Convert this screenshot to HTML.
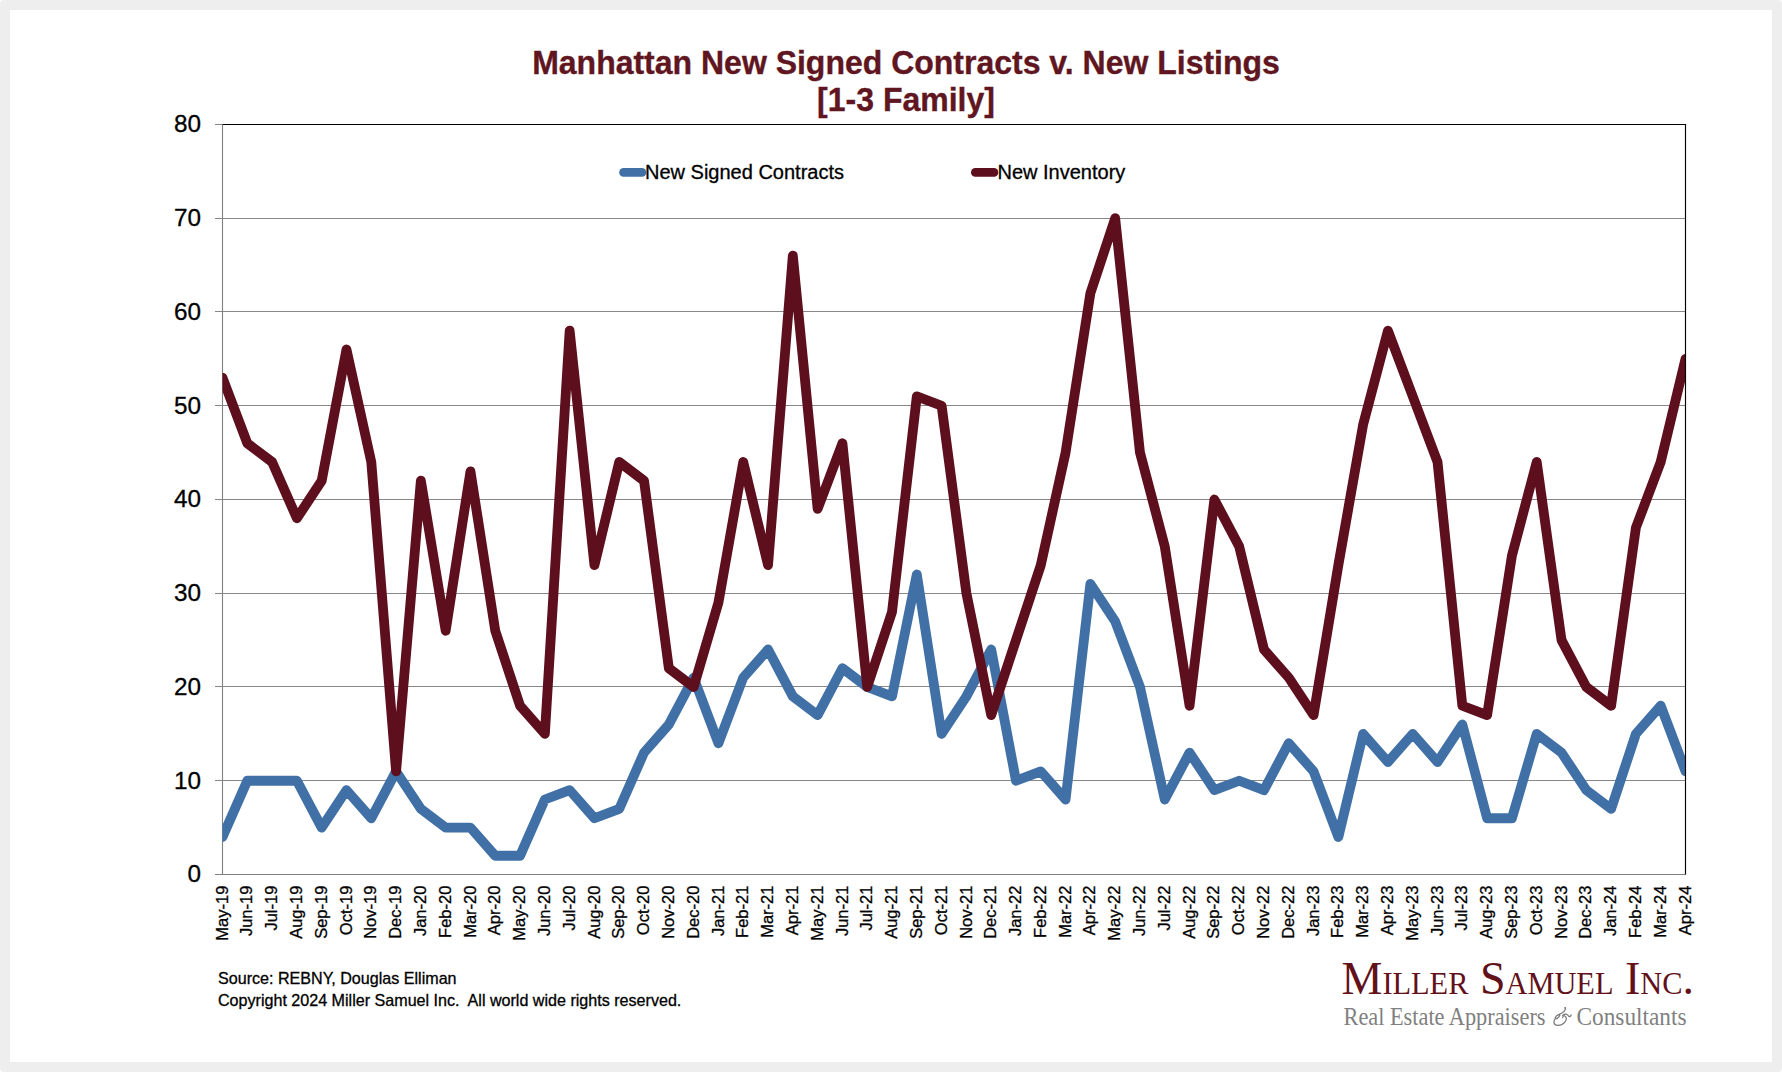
<!DOCTYPE html>
<html><head><meta charset="utf-8"><style>
html,body{margin:0;padding:0;width:1782px;height:1072px;overflow:hidden;background:#ffffff;}
.bg{position:absolute;left:0;top:0;width:1782px;height:1072px;background:#eeeeee;border-radius:4px;}
.card{position:absolute;left:10px;top:10px;width:1762px;height:1052px;background:#fff;}
svg{position:absolute;left:0;top:0;}

</style></head><body>
<div class="bg"></div><div class="card"></div>
<svg width="1782" height="1072" viewBox="0 0 1782 1072" font-family="Liberation Sans" fill="#000">
<g stroke="#000" stroke-width="0.3">
<line x1="215.0" y1="780.5" x2="1685.5" y2="780.5" stroke="#878787" stroke-width="1"/>
<line x1="215.0" y1="686.5" x2="1685.5" y2="686.5" stroke="#878787" stroke-width="1"/>
<line x1="215.0" y1="593.5" x2="1685.5" y2="593.5" stroke="#878787" stroke-width="1"/>
<line x1="215.0" y1="499.5" x2="1685.5" y2="499.5" stroke="#878787" stroke-width="1"/>
<line x1="215.0" y1="405.5" x2="1685.5" y2="405.5" stroke="#878787" stroke-width="1"/>
<line x1="215.0" y1="311.5" x2="1685.5" y2="311.5" stroke="#878787" stroke-width="1"/>
<line x1="215.0" y1="218.5" x2="1685.5" y2="218.5" stroke="#878787" stroke-width="1"/>
<line x1="215.0" y1="874.5" x2="1685.5" y2="874.5" stroke="#808080" stroke-width="1.1"/>
<line x1="215.0" y1="124.5" x2="222.5" y2="124.5" stroke="#878787" stroke-width="1"/>
<line x1="222.5" y1="124.5" x2="222.5" y2="874.5" stroke="#808080" stroke-width="1.1"/>
<text x="201" y="882.30" text-anchor="end" font-size="24.3">0</text>
<text x="201" y="788.55" text-anchor="end" font-size="24.3">10</text>
<text x="201" y="694.80" text-anchor="end" font-size="24.3">20</text>
<text x="201" y="601.05" text-anchor="end" font-size="24.3">30</text>
<text x="201" y="507.30" text-anchor="end" font-size="24.3">40</text>
<text x="201" y="413.55" text-anchor="end" font-size="24.3">50</text>
<text x="201" y="319.80" text-anchor="end" font-size="24.3">60</text>
<text x="201" y="226.05" text-anchor="end" font-size="24.3">70</text>
<text x="201" y="132.30" text-anchor="end" font-size="24.3">80</text>
<text transform="translate(227.60,885.6) rotate(-90)" text-anchor="end" font-size="16.5">May-19</text>
<text transform="translate(252.40,885.6) rotate(-90)" text-anchor="end" font-size="16.5">Jun-19</text>
<text transform="translate(277.19,885.6) rotate(-90)" text-anchor="end" font-size="16.5">Jul-19</text>
<text transform="translate(301.99,885.6) rotate(-90)" text-anchor="end" font-size="16.5">Aug-19</text>
<text transform="translate(326.79,885.6) rotate(-90)" text-anchor="end" font-size="16.5">Sep-19</text>
<text transform="translate(351.58,885.6) rotate(-90)" text-anchor="end" font-size="16.5">Oct-19</text>
<text transform="translate(376.38,885.6) rotate(-90)" text-anchor="end" font-size="16.5">Nov-19</text>
<text transform="translate(401.18,885.6) rotate(-90)" text-anchor="end" font-size="16.5">Dec-19</text>
<text transform="translate(425.97,885.6) rotate(-90)" text-anchor="end" font-size="16.5">Jan-20</text>
<text transform="translate(450.77,885.6) rotate(-90)" text-anchor="end" font-size="16.5">Feb-20</text>
<text transform="translate(475.57,885.6) rotate(-90)" text-anchor="end" font-size="16.5">Mar-20</text>
<text transform="translate(500.36,885.6) rotate(-90)" text-anchor="end" font-size="16.5">Apr-20</text>
<text transform="translate(525.16,885.6) rotate(-90)" text-anchor="end" font-size="16.5">May-20</text>
<text transform="translate(549.96,885.6) rotate(-90)" text-anchor="end" font-size="16.5">Jun-20</text>
<text transform="translate(574.75,885.6) rotate(-90)" text-anchor="end" font-size="16.5">Jul-20</text>
<text transform="translate(599.55,885.6) rotate(-90)" text-anchor="end" font-size="16.5">Aug-20</text>
<text transform="translate(624.35,885.6) rotate(-90)" text-anchor="end" font-size="16.5">Sep-20</text>
<text transform="translate(649.14,885.6) rotate(-90)" text-anchor="end" font-size="16.5">Oct-20</text>
<text transform="translate(673.94,885.6) rotate(-90)" text-anchor="end" font-size="16.5">Nov-20</text>
<text transform="translate(698.74,885.6) rotate(-90)" text-anchor="end" font-size="16.5">Dec-20</text>
<text transform="translate(723.53,885.6) rotate(-90)" text-anchor="end" font-size="16.5">Jan-21</text>
<text transform="translate(748.33,885.6) rotate(-90)" text-anchor="end" font-size="16.5">Feb-21</text>
<text transform="translate(773.13,885.6) rotate(-90)" text-anchor="end" font-size="16.5">Mar-21</text>
<text transform="translate(797.92,885.6) rotate(-90)" text-anchor="end" font-size="16.5">Apr-21</text>
<text transform="translate(822.72,885.6) rotate(-90)" text-anchor="end" font-size="16.5">May-21</text>
<text transform="translate(847.52,885.6) rotate(-90)" text-anchor="end" font-size="16.5">Jun-21</text>
<text transform="translate(872.31,885.6) rotate(-90)" text-anchor="end" font-size="16.5">Jul-21</text>
<text transform="translate(897.11,885.6) rotate(-90)" text-anchor="end" font-size="16.5">Aug-21</text>
<text transform="translate(921.91,885.6) rotate(-90)" text-anchor="end" font-size="16.5">Sep-21</text>
<text transform="translate(946.70,885.6) rotate(-90)" text-anchor="end" font-size="16.5">Oct-21</text>
<text transform="translate(971.50,885.6) rotate(-90)" text-anchor="end" font-size="16.5">Nov-21</text>
<text transform="translate(996.29,885.6) rotate(-90)" text-anchor="end" font-size="16.5">Dec-21</text>
<text transform="translate(1021.09,885.6) rotate(-90)" text-anchor="end" font-size="16.5">Jan-22</text>
<text transform="translate(1045.89,885.6) rotate(-90)" text-anchor="end" font-size="16.5">Feb-22</text>
<text transform="translate(1070.68,885.6) rotate(-90)" text-anchor="end" font-size="16.5">Mar-22</text>
<text transform="translate(1095.48,885.6) rotate(-90)" text-anchor="end" font-size="16.5">Apr-22</text>
<text transform="translate(1120.28,885.6) rotate(-90)" text-anchor="end" font-size="16.5">May-22</text>
<text transform="translate(1145.07,885.6) rotate(-90)" text-anchor="end" font-size="16.5">Jun-22</text>
<text transform="translate(1169.87,885.6) rotate(-90)" text-anchor="end" font-size="16.5">Jul-22</text>
<text transform="translate(1194.67,885.6) rotate(-90)" text-anchor="end" font-size="16.5">Aug-22</text>
<text transform="translate(1219.46,885.6) rotate(-90)" text-anchor="end" font-size="16.5">Sep-22</text>
<text transform="translate(1244.26,885.6) rotate(-90)" text-anchor="end" font-size="16.5">Oct-22</text>
<text transform="translate(1269.06,885.6) rotate(-90)" text-anchor="end" font-size="16.5">Nov-22</text>
<text transform="translate(1293.85,885.6) rotate(-90)" text-anchor="end" font-size="16.5">Dec-22</text>
<text transform="translate(1318.65,885.6) rotate(-90)" text-anchor="end" font-size="16.5">Jan-23</text>
<text transform="translate(1343.45,885.6) rotate(-90)" text-anchor="end" font-size="16.5">Feb-23</text>
<text transform="translate(1368.24,885.6) rotate(-90)" text-anchor="end" font-size="16.5">Mar-23</text>
<text transform="translate(1393.04,885.6) rotate(-90)" text-anchor="end" font-size="16.5">Apr-23</text>
<text transform="translate(1417.84,885.6) rotate(-90)" text-anchor="end" font-size="16.5">May-23</text>
<text transform="translate(1442.63,885.6) rotate(-90)" text-anchor="end" font-size="16.5">Jun-23</text>
<text transform="translate(1467.43,885.6) rotate(-90)" text-anchor="end" font-size="16.5">Jul-23</text>
<text transform="translate(1492.23,885.6) rotate(-90)" text-anchor="end" font-size="16.5">Aug-23</text>
<text transform="translate(1517.02,885.6) rotate(-90)" text-anchor="end" font-size="16.5">Sep-23</text>
<text transform="translate(1541.82,885.6) rotate(-90)" text-anchor="end" font-size="16.5">Oct-23</text>
<text transform="translate(1566.62,885.6) rotate(-90)" text-anchor="end" font-size="16.5">Nov-23</text>
<text transform="translate(1591.41,885.6) rotate(-90)" text-anchor="end" font-size="16.5">Dec-23</text>
<text transform="translate(1616.21,885.6) rotate(-90)" text-anchor="end" font-size="16.5">Jan-24</text>
<text transform="translate(1641.01,885.6) rotate(-90)" text-anchor="end" font-size="16.5">Feb-24</text>
<text transform="translate(1665.80,885.6) rotate(-90)" text-anchor="end" font-size="16.5">Mar-24</text>
<text transform="translate(1690.60,885.6) rotate(-90)" text-anchor="end" font-size="16.5">Apr-24</text>
<clipPath id="c"><rect x="222.5" y="124.5" width="1463.0" height="750.0"/></clipPath>
<g clip-path="url(#c)" fill="none" stroke-width="9.8" stroke-linejoin="round" stroke-linecap="round">
<path d="M222.50,837.00 L247.30,780.75 L272.09,780.75 L296.89,780.75 L321.69,827.62 L346.48,790.12 L371.28,818.25 L396.08,771.38 L420.87,808.88 L445.67,827.62 L470.47,827.62 L495.26,855.75 L520.06,855.75 L544.86,799.50 L569.65,790.12 L594.45,818.25 L619.25,808.88 L644.04,752.62 L668.84,724.50 L693.64,677.62 L718.43,743.25 L743.23,677.62 L768.03,649.50 L792.82,696.38 L817.62,715.12 L842.42,668.25 L867.21,687.00 L892.01,696.38 L916.81,574.50 L941.60,733.88 L966.40,696.38 L991.19,649.50 L1015.99,780.75 L1040.79,771.38 L1065.58,799.50 L1090.38,583.88 L1115.18,621.38 L1139.97,687.00 L1164.77,799.50 L1189.57,752.62 L1214.36,790.12 L1239.16,780.75 L1263.96,790.12 L1288.75,743.25 L1313.55,771.38 L1338.35,837.00 L1363.14,733.88 L1387.94,762.00 L1412.74,733.88 L1437.53,762.00 L1462.33,724.50 L1487.13,818.25 L1511.92,818.25 L1536.72,733.88 L1561.52,752.62 L1586.31,790.12 L1611.11,808.88 L1635.91,733.88 L1660.70,705.75 L1685.50,771.38" stroke="#4070A5"/>
<path d="M222.50,377.62 L247.30,443.25 L272.09,462.00 L296.89,518.25 L321.69,480.75 L346.48,349.50 L371.28,462.00 L396.08,771.38 L420.87,480.75 L445.67,630.75 L470.47,471.38 L495.26,630.75 L520.06,705.75 L544.86,733.88 L569.65,330.75 L594.45,565.12 L619.25,462.00 L644.04,480.75 L668.84,668.25 L693.64,687.00 L718.43,602.62 L743.23,462.00 L768.03,565.12 L792.82,255.75 L817.62,508.88 L842.42,443.25 L867.21,687.00 L892.01,612.00 L916.81,396.38 L941.60,405.75 L966.40,593.25 L991.19,715.12 L1015.99,640.12 L1040.79,565.12 L1065.58,452.62 L1090.38,293.25 L1115.18,218.25 L1139.97,452.62 L1164.77,546.38 L1189.57,705.75 L1214.36,499.50 L1239.16,546.38 L1263.96,649.50 L1288.75,677.62 L1313.55,715.12 L1338.35,565.12 L1363.14,424.50 L1387.94,330.75 L1412.74,396.38 L1437.53,462.00 L1462.33,705.75 L1487.13,715.12 L1511.92,555.75 L1536.72,462.00 L1561.52,640.12 L1586.31,687.00 L1611.11,705.75 L1635.91,527.62 L1660.70,462.00 L1685.50,358.88" stroke="#5E0F1D"/>
</g>
<path d="M222.5,124.5 H1685.5 V874.5" fill="none" stroke="#000" stroke-width="1.15"/>
<line x1="623.5" y1="172.4" x2="642" y2="172.4" stroke="#4070A5" stroke-width="8.6" stroke-linecap="round"/>
<text x="645" y="178.8" font-size="20">New Signed Contracts</text>
<line x1="975.3" y1="172.4" x2="994" y2="172.4" stroke="#5E0F1D" stroke-width="8.6" stroke-linecap="round"/>
<text x="997.5" y="178.8" font-size="20">New Inventory</text>
<text transform="translate(906,74) scale(1,1.05)" text-anchor="middle" font-size="32" font-weight="bold" fill="#5F1621" stroke="#5F1621" stroke-width="0.35">Manhattan New Signed Contracts v. New Listings</text>
<text transform="translate(906,111) scale(1,1.05)" text-anchor="middle" font-size="32" font-weight="bold" fill="#5F1621" stroke="#5F1621" stroke-width="0.35">[1-3 Family]</text>
<text x="218" y="983.8" font-size="16.1">Source: REBNY, Douglas Elliman</text>
<text x="218" y="1005.5" font-size="16.1" xml:space="preserve">Copyright 2024 Miller Samuel Inc.  All world wide rights reserved.</text>
</g>
<text x="1341.5" y="993.8" font-family="Liberation Serif" font-size="47" fill="#62111A" textLength="352.5" lengthAdjust="spacingAndGlyphs">M<tspan font-size="31">ILLER</tspan> S<tspan font-size="31">AMUEL</tspan> I<tspan font-size="31">NC</tspan>.</text>
<text x="1343.5" y="1025.2" font-family="Liberation Serif" font-size="24.5" fill="#808080" textLength="202" lengthAdjust="spacingAndGlyphs">Real Estate Appraisers</text>
<text x="1576.5" y="1025.2" font-family="Liberation Serif" font-size="24.5" fill="#808080" textLength="110" lengthAdjust="spacingAndGlyphs">Consultants</text>
<g transform="translate(1545,1000) scale(0.03268)" fill="none" stroke="#7a7a7a" stroke-width="38" stroke-linecap="round"><path d="M620,230 C640,320 560,390 450,430 C360,465 300,520 320,560 C345,590 420,545 455,470"/><path d="M330,560 C250,620 245,785 400,780 C545,775 660,660 650,560 C640,470 560,450 540,540"/><path d="M540,470 C610,410 680,430 720,490 C750,525 795,500 800,455"/><circle cx="620" cy="240" r="28" fill="#7a7a7a" stroke="none"/></g>
</svg>
</body></html>
